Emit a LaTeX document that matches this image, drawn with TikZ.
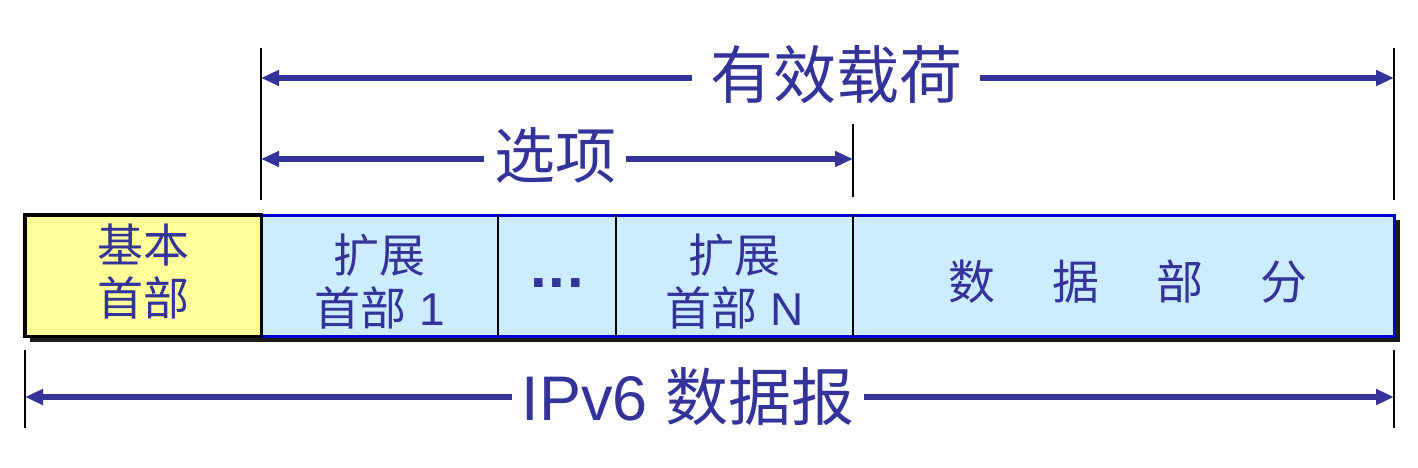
\documentclass[tikz,border=0pt]{standalone}
\usepackage{fontspec}
\setmainfont{Liberation Sans}
\newfontfamily\cjk{Noto Sans CJK SC}
\usetikzlibrary{arrows.meta}
\definecolor{txt}{RGB}{51,51,153}
\definecolor{yel}{RGB}{255,255,153}
\definecolor{lblue}{RGB}{204,236,255}
\definecolor{bblue}{RGB}{0,0,204}
\definecolor{shad}{RGB}{28,28,28}
\begin{document}
\begin{tikzpicture}[x=1pt,y=-1pt,
  cell/.style={draw=none,inner sep=0pt,anchor=north west,minimum height=121},
  big/.style={text=txt,inner sep=0pt,font=\fontsize{63}{63}\selectfont,text height=52pt,text depth=4.4pt},
  celltxt/.style={text=txt,inner sep=0pt,align=center,font=\fontsize{46}{53}\selectfont},
  arr/.style={draw=txt,line width=6pt,-{Triangle[length=18pt,width=15pt]}},
  tick/.style={draw=black,line width=1.8pt}]
\useasboundingbox (0,0) rectangle (1418,468);
% shadow
\fill[shad] (30,220) rectangle (1400,342);
% cells
\node[cell,fill=yel,minimum width=236] (base) at (25,215) {};
\node[cell,fill=lblue,minimum width=237] (ext1) at (261,215) {};
\node[cell,fill=lblue,minimum width=118] (dots) at (498,215) {};
\node[cell,fill=lblue,minimum width=237] (extN) at (616,215) {};
\node[cell,fill=lblue,minimum width=541] (data) at (853,215) {};
\draw[bblue,line width=3pt] (ext1.north west) rectangle (data.south east);
\draw[black,line width=2pt] (ext1.north east) -- (ext1.south east);
\draw[black,line width=2pt] (dots.north east) -- (dots.south east);
\draw[black,line width=2pt] (extN.north east) -- (extN.south east);
\draw[black,line width=3.5pt] (base.north west) rectangle (base.south east);
% cell texts
\node[celltxt] (tbase) at ([yshift=4.5pt]base.center) {{\cjk 基本}\\{\cjk 首部}};
\node[celltxt] (text1) at ([yshift=-6pt]ext1.center) {{\cjk 扩展}\\{\cjk 首部} 1};
\node[text=txt,inner sep=0pt,font=\fontsize{60}{60}\selectfont\bfseries] (tdots) at ([yshift=-7pt]dots.center) {.\kern2pt.\kern2pt.};
\node[celltxt] (textN) at ([yshift=-6pt]extN.center) {{\cjk 扩展}\\{\cjk 首部} N};
\node[celltxt,font=\fontsize{47}{47}\selectfont\cjk,text height=39pt,text depth=3.3pt] (tdata) at (1128,282) {数\hspace{57pt}据\hspace{57pt}部\hspace{57pt}分};
% ticks
\coordinate (t1a) at (261,48); \coordinate (t1b) at (261,200);
\coordinate (t2a) at (853,124); \coordinate (t2b) at (853,197);
\coordinate (t3a) at (1394,48); \coordinate (t3b) at (1394,200);
\coordinate (b1a) at (25,350); \coordinate (b1b) at (25,428);
\coordinate (b2a) at (1394,350); \coordinate (b2b) at (1394,428);
\draw[tick] (t1a) -- (t1b);
\draw[tick] (t2a) -- (t2b);
\draw[tick] (t3a) -- (t3b);
\draw[tick] (b1a) -- (b1b);
\draw[tick] (b2a) -- (b2b);
% labels
\node[big,inner xsep=18pt,font=\fontsize{63}{63}\selectfont\cjk] (pay) at (836,75) {有效载荷};
\node[big,inner xsep=10pt,font=\fontsize{61}{61}\selectfont\cjk,text height=50.6pt,text depth=4.3pt] (opt) at (555,155) {选项};
\node[big,inner xsep=10pt] (ipv6) at (688,397) {IPv6 {\cjk 数据报}};
\coordinate (pL) at (261,78); \coordinate (pR) at (1394,78);
\coordinate (oL) at (261,159); \coordinate (oR) at (853,159);
\coordinate (iL) at (25,397); \coordinate (iR) at (1394,397);
\draw[arr] (pay.west |- pL) -- (pL);
\draw[arr] (pay.east |- pR) -- (pR);
\draw[arr] (opt.west |- oL) -- (oL);
\draw[arr] (opt.east |- oR) -- (oR);
\draw[arr] (ipv6.west) -- (iL);
\draw[arr] (ipv6.east) -- (iR);
\end{tikzpicture}
\end{document}
